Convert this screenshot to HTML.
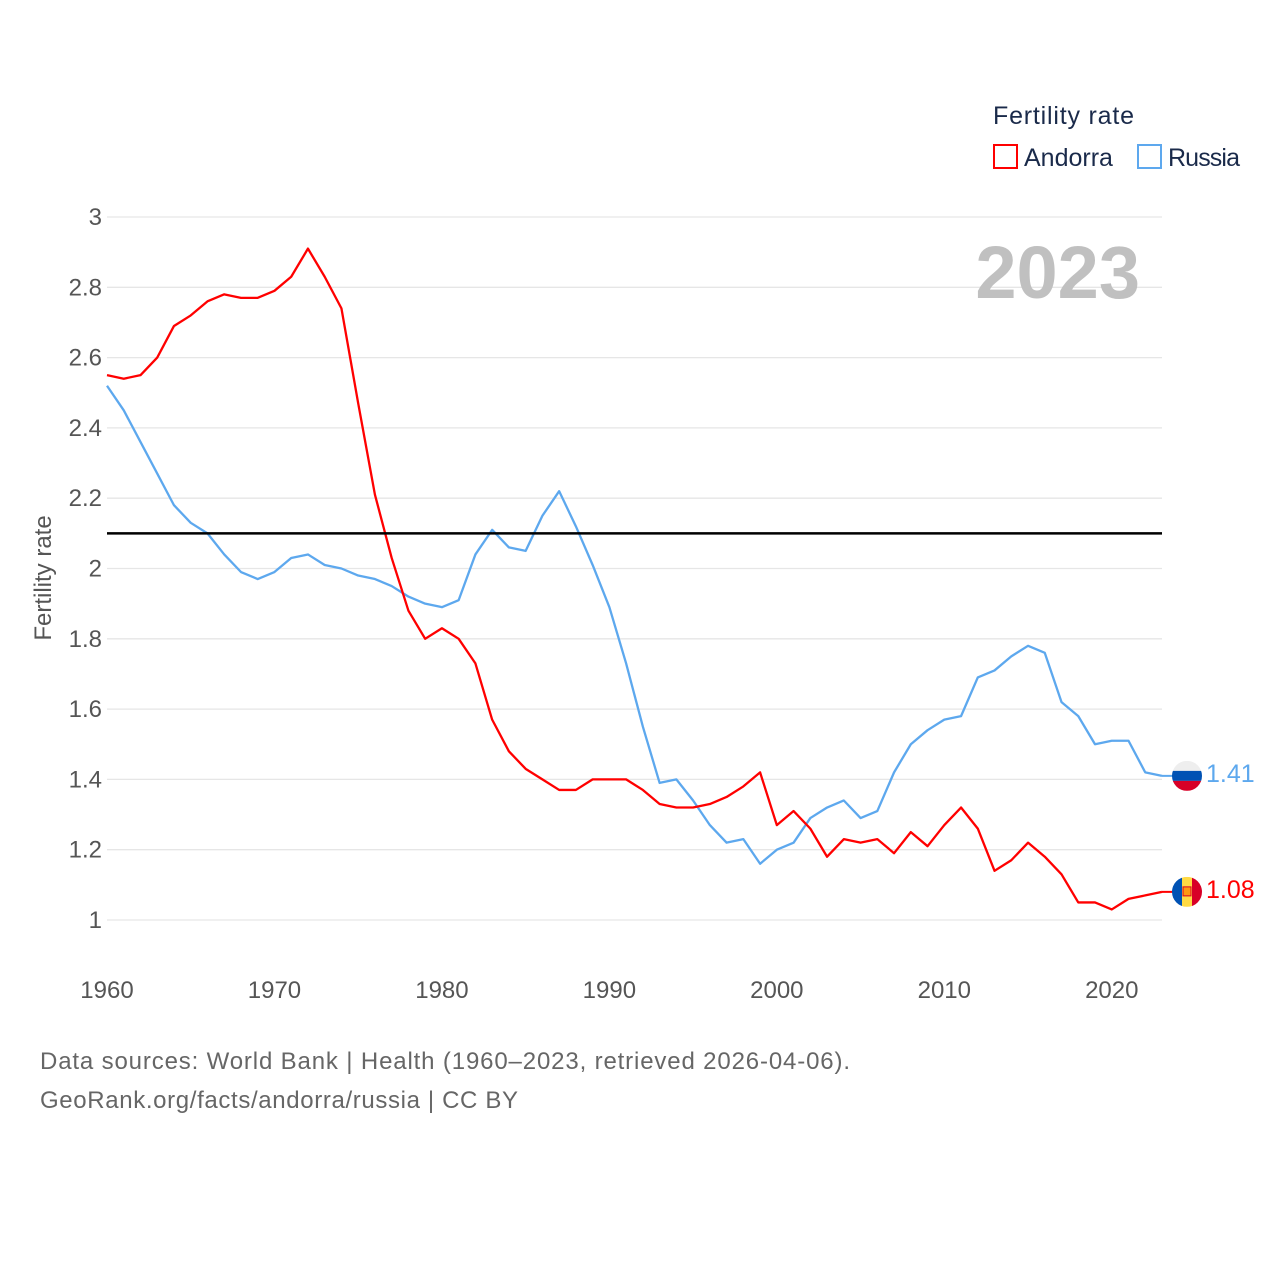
<!DOCTYPE html>
<html><head><meta charset="utf-8"><style>
body{margin:0;background:#fff;font-family:"Liberation Sans",sans-serif;}
svg text{font-family:"Liberation Sans",sans-serif;}
</style></head><body>
<svg id="chart" width="1280" height="1280" viewBox="0 0 1280 1280">
<g id="grid"></g>
<g id="yticks"></g>
<g id="xticks"></g>
<text x="1140" y="298" text-anchor="end" font-size="74" font-weight="bold" fill="#c0c0c0">2023</text>
<text transform="translate(51,578) rotate(-90)" text-anchor="middle" font-size="24" fill="#555">Fertility rate</text>
<text x="993" y="124" font-size="25" fill="#1a2a4a" textLength="141">Fertility rate</text>
<g><rect x="994" y="145" width="23" height="23" fill="none" stroke="#ff0000" stroke-width="2"/><text x="1024" y="166" font-size="25" fill="#1a2a4a">Andorra</text></g>
<g><rect x="1138" y="145" width="23" height="23" fill="none" stroke="#5da8ee" stroke-width="2"/><text x="1168" y="166" font-size="25" fill="#1a2a4a" textLength="72">Russia</text></g>
<g id="series"></g>
<line id="refline" x1="107" x2="1162" stroke="#000" stroke-width="2.5"/>
<g id="ends"></g>
<text x="40" y="1069" font-size="24" fill="#666" textLength="810">Data sources: World Bank | Health (1960–2023, retrieved 2026-04-06).</text>
<text x="40" y="1108" font-size="24" fill="#666" textLength="478">GeoRank.org/facts/andorra/russia | CC BY</text>
</svg>
<script>
const years=[];for(let y=1960;y<=2023;y++)years.push(y);
const andorra=[2.55,2.54,2.55,2.60,2.69,2.72,2.76,2.78,2.77,2.77,2.79,2.83,2.91,2.83,2.74,2.47,2.21,2.03,1.88,1.80,1.83,1.80,1.73,1.57,1.48,1.43,1.40,1.37,1.37,1.40,1.40,1.40,1.37,1.33,1.32,1.32,1.33,1.35,1.38,1.42,1.27,1.31,1.26,1.18,1.23,1.22,1.23,1.19,1.25,1.21,1.27,1.32,1.26,1.14,1.17,1.22,1.18,1.13,1.05,1.05,1.03,1.06,1.07,1.08];
const russia=[2.52,2.45,2.36,2.27,2.18,2.13,2.10,2.04,1.99,1.97,1.99,2.03,2.04,2.01,2.00,1.98,1.97,1.95,1.92,1.90,1.89,1.91,2.04,2.11,2.06,2.05,2.15,2.22,2.12,2.01,1.89,1.73,1.55,1.39,1.40,1.34,1.27,1.22,1.23,1.16,1.20,1.22,1.29,1.32,1.34,1.29,1.31,1.42,1.50,1.54,1.57,1.58,1.69,1.71,1.75,1.78,1.76,1.62,1.58,1.50,1.51,1.51,1.42,1.41];
const yTicks=[1,1.2,1.4,1.6,1.8,2,2.2,2.4,2.6,2.8,3];
const xTicks=[1960,1970,1980,1990,2000,2010,2020];
const refValue=2.1;
const NS="http://www.w3.org/2000/svg";
const X=y=>107+(y-1960)*(1162-107)/63;
const Y=v=>920-(v-1)*(920-217)/2;
function mk(tag,attrs,parent){const e=document.createElementNS(NS,tag);for(const k in attrs)e.setAttribute(k,attrs[k]);parent.appendChild(e);return e;}
const grid=document.getElementById('grid'),yt=document.getElementById('yticks'),xt=document.getElementById('xticks');
yTicks.forEach(v=>{
 const l=mk('line',{x1:107,x2:1162,y1:Y(v),y2:Y(v),stroke:'#e6e6e6','stroke-width':1.3},grid);
 
 
 const t=mk('text',{x:102,y:Y(v)+8,'text-anchor':'end','font-size':24,fill:'#555'},yt);
 t.textContent=String(v);
 
 
});
xTicks.forEach(v=>{
 const t=mk('text',{x:X(v),y:998,'text-anchor':'middle','font-size':24,fill:'#555'},xt);
 t.textContent=String(v);
 
 
});
const rl=document.getElementById('refline');rl.setAttribute('y1',Y(refValue));rl.setAttribute('y2',Y(refValue));
const sg=document.getElementById('series');
[[russia,'#5da8ee','russia-line'],[andorra,'#ff0000','andorra-line']].forEach(([d,c,n])=>{
 const p=mk('polyline',{points:d.map((v,i)=>X(years[i])+','+Y(v)).join(' '),fill:'none',stroke:c,'stroke-width':2.3,'stroke-linejoin':'round'},sg);
 
 
});
const ends=document.getElementById('ends');
function flag(v,c,name,kind){
 const cx=1187,cy=Y(v);
 const g=mk('g',{},ends);
 
 
 mk('line',{x1:X(2023),x2:cx,y1:cy,y2:cy,stroke:c,'stroke-width':2},g);
 const id='clip'+name;
 const cp=mk('clipPath',{id:id},g);mk('circle',{cx:cx,cy:cy,r:15},cp);
 const f=mk('g',{'clip-path':'url(#'+id+')'},g);
 if(kind==='ru'){
  mk('rect',{x:cx-15,y:cy-15,width:30,height:10,fill:'#eeeeee'},f);
  mk('rect',{x:cx-15,y:cy-5,width:30,height:10,fill:'#0052b4'},f);
  mk('rect',{x:cx-15,y:cy+5,width:30,height:10,fill:'#d80027'},f);
 }else{
  mk('rect',{x:cx-15,y:cy-15,width:10,height:30,fill:'#0052b4'},f);
  mk('rect',{x:cx-5,y:cy-15,width:10,height:30,fill:'#ffda44'},f);
  mk('rect',{x:cx+5,y:cy-15,width:10,height:30,fill:'#d80027'},f);
  mk('rect',{x:cx-4,y:cy-5,width:8,height:9,fill:'#ff9811',stroke:'#d80027','stroke-width':1},f);
 }
 const t=mk('text',{x:1206,y:cy+6,'font-size':25,fill:c},ends);
 t.textContent=v.toFixed(2);
 
 
}
flag(russia[russia.length-1],'#5da8ee','russia','ru');
flag(andorra[andorra.length-1],'#ff0000','andorra','ad');
</script>
</body></html>
